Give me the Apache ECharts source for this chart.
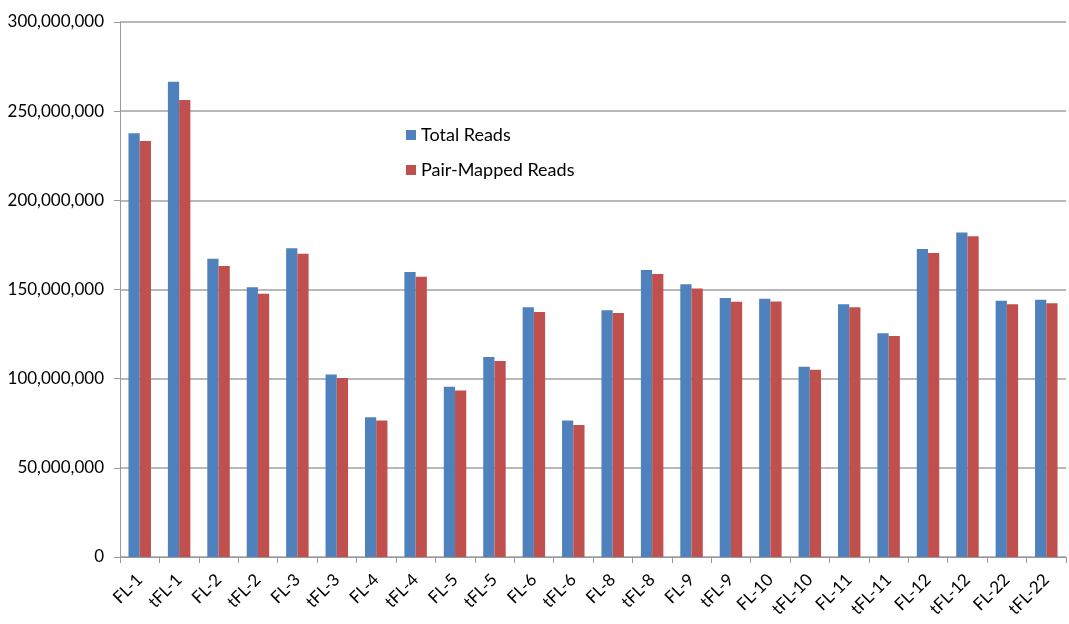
<!DOCTYPE html>
<html>
<head>
<meta charset="utf-8">
<script src="https://cdn.jsdelivr.net/npm/echarts@6/dist/echarts.min.js"></script>
<style>
  html, body { margin: 0; padding: 0; background: #fff; }
  #chart { width: 1069px; height: 624px; }
</style>
</head>
<body>
<div id="chart"></div>
<script>
// Sample names along the x axis
const samples = ['FL-1', 'tFL-1', 'FL-2', 'tFL-2', 'FL-3', 'tFL-3', 'FL-4', 'tFL-4',
  'FL-5', 'tFL-5', 'FL-6', 'tFL-6', 'FL-8', 'tFL-8', 'FL-9', 'tFL-9',
  'FL-10', 'tFL-10', 'FL-11', 'tFL-11', 'FL-12', 'tFL-12', 'FL-22', 'tFL-22'];

// Read counts per sample
const totalReads = [237600000, 266500000, 167300000, 151200000, 173100000, 102400000,
  78300000, 159800000, 95500000, 112100000, 140000000, 76600000,
  138300000, 160900000, 152900000, 145200000, 144800000, 106700000,
  141700000, 125400000, 172700000, 181900000, 143700000, 144300000];

const pairMappedReads = [233300000, 256200000, 163200000, 147600000, 170100000, 100400000,
  76600000, 157200000, 93300000, 109900000, 137400000, 74000000,
  136800000, 158700000, 150600000, 143200000, 143300000, 105000000,
  140000000, 123900000, 170500000, 179800000, 141700000, 142300000];

// Value axis ticks
const yMin = 0;
const yMax = 300000000;
const yStep = 50000000;

const FONT = 'Lato, "Open Sans", sans-serif';

const chart = echarts.init(document.getElementById('chart'), null, { renderer: 'canvas' });

chart.setOption({
  animation: false,
  backgroundColor: '#ffffff',
  textStyle: { fontFamily: FONT },
  grid: { left: 120, right: 3, top: 22, bottom: 67, containLabel: false },
  legend: {
    orient: 'vertical',
    left: 401,
    top: 121,
    itemWidth: 10,
    itemHeight: 10,
    itemGap: 17,
    icon: 'rect',
    textStyle: { fontFamily: FONT, fontSize: 18, color: '#000' },
    data: ['Total Reads', 'Pair-Mapped Reads']
  },
  xAxis: {
    type: 'category',
    data: samples,
    axisLine: { lineStyle: { color: '#9a9a9a', width: 1 } },
    axisTick: { show: true, alignWithLabel: false, length: 6, lineStyle: { color: '#9a9a9a' } },
    axisLabel: {
      interval: 0,
      rotate: 45,
      fontFamily: FONT,
      fontSize: 17,
      color: '#000',
      margin: 20
    }
  },
  yAxis: {
    type: 'value',
    min: yMin,
    max: yMax,
    interval: yStep,
    axisLine: { show: true, lineStyle: { color: '#9a9a9a', width: 1 } },
    axisTick: { show: true, length: 6, lineStyle: { color: '#9a9a9a' } },
    splitLine: { show: true, lineStyle: { color: '#a0a0a0', width: 1.5 } },
    axisLabel: {
      fontFamily: FONT,
      fontSize: 17,
      color: '#000',
      margin: 16,
      formatter: v => v.toLocaleString('en-US')
    }
  },
  series: [
    {
      name: 'Total Reads',
      type: 'bar',
      data: totalReads,
      barGap: '0%',
      barCategoryGap: '43%',
      itemStyle: { color: '#4F81BD' }
    },
    {
      name: 'Pair-Mapped Reads',
      type: 'bar',
      data: pairMappedReads,
      barGap: '0%',
      barCategoryGap: '43%',
      itemStyle: { color: '#C0504D' }
    }
  ]
});
</script>
</body>
</html>
